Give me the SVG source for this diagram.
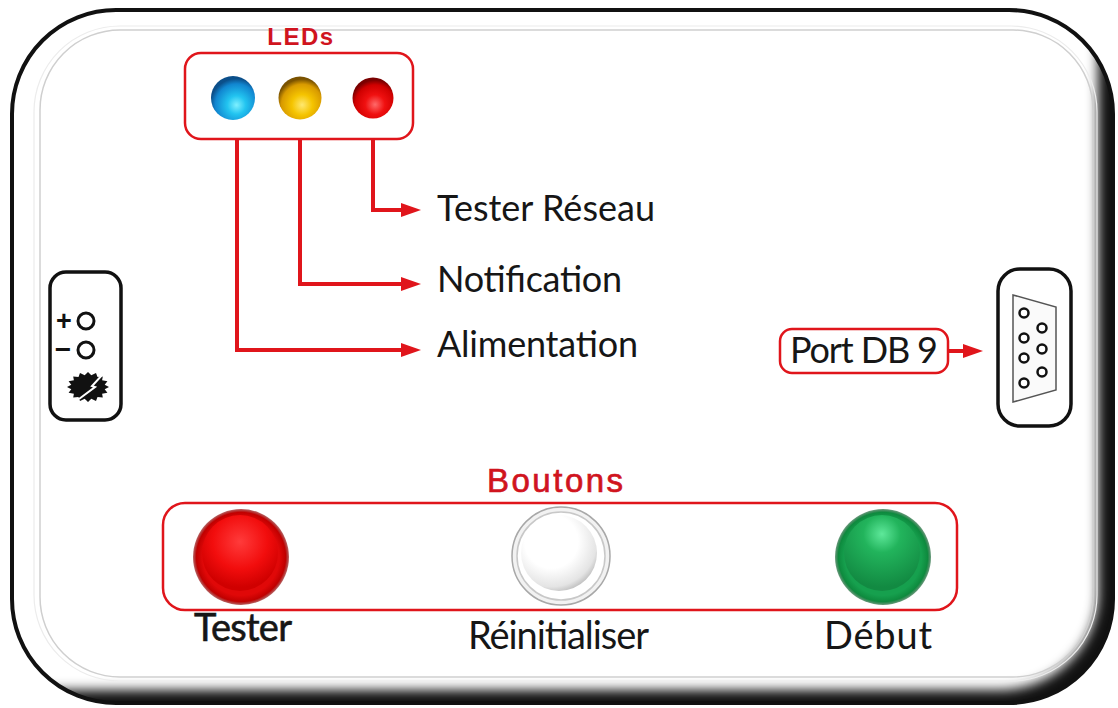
<svg xmlns="http://www.w3.org/2000/svg" width="1118" height="708" viewBox="0 0 1118 708">
  <style>
    .label { font-family: Lato, "Noto Sans", "Liberation Sans", sans-serif; font-size: 36px; fill: #161616; }
    .big { font-size: 38px; }
    .title { font-family: "Liberation Sans", Arial, sans-serif; fill: #d0141e; }
    .redbox { fill: none; stroke: #e0151b; stroke-width: 2.5; }
    .wire { fill: none; stroke: #e0151b; stroke-width: 4; }
    .case { fill: #fff; stroke: #111; stroke-width: 3.5; }
    .pin { fill: #fff; stroke: #111; stroke-width: 2.5; }
  </style>
  <defs>
    <clipPath id="frameClip">
      <rect x="12" y="10" width="1101" height="693" rx="104"/>
    </clipPath>
    <filter id="soft" x="-10%" y="-10%" width="120%" height="120%">
      <feGaussianBlur stdDeviation="6"/>
    </filter>
    <marker id="arrow" markerUnits="userSpaceOnUse" viewBox="0 0 20 14" markerWidth="20" markerHeight="14" refX="1" refY="7" orient="auto">
      <path d="M0 0 L20 7 L0 14 Z" fill="#e0151b"/>
    </marker>

    <!-- LED gradients -->
    <radialGradient id="ledBlue" cx="0.58" cy="0.66" r="0.6">
      <stop offset="0" stop-color="#7ff0ff"/>
      <stop offset="0.35" stop-color="#22c4f0"/>
      <stop offset="0.8" stop-color="#1186d0"/>
      <stop offset="1" stop-color="#0b4f8a"/>
    </radialGradient>
    <radialGradient id="ledYellow" cx="0.55" cy="0.66" r="0.6">
      <stop offset="0" stop-color="#ffe870"/>
      <stop offset="0.4" stop-color="#f5c400"/>
      <stop offset="0.8" stop-color="#d89a00"/>
      <stop offset="1" stop-color="#7a5200"/>
    </radialGradient>
    <radialGradient id="ledRed" cx="0.55" cy="0.66" r="0.6">
      <stop offset="0" stop-color="#ff6a6a"/>
      <stop offset="0.4" stop-color="#f01010"/>
      <stop offset="0.8" stop-color="#d00000"/>
      <stop offset="1" stop-color="#7a0000"/>
    </radialGradient>

    <!-- push-button gradients -->
    <radialGradient id="btnRedRim" cx="0.5" cy="0.5" r="0.5">
      <stop offset="0.8" stop-color="#e00808"/>
      <stop offset="0.93" stop-color="#c00000"/>
      <stop offset="1" stop-color="#8a0000" stop-opacity="0.6"/>
    </radialGradient>
    <radialGradient id="btnRedCap" cx="0.5" cy="0.35" r="0.6">
      <stop offset="0" stop-color="#ff3b3b"/>
      <stop offset="0.6" stop-color="#f20d0d"/>
      <stop offset="1" stop-color="#d00000"/>
    </radialGradient>
    <radialGradient id="btnGreenRim" cx="0.5" cy="0.5" r="0.5">
      <stop offset="0.8" stop-color="#16a04e"/>
      <stop offset="0.93" stop-color="#0e8a3e"/>
      <stop offset="1" stop-color="#0a5a28" stop-opacity="0.6"/>
    </radialGradient>
    <radialGradient id="btnGreenCap" cx="0.5" cy="0.25" r="0.7">
      <stop offset="0" stop-color="#5ee89a"/>
      <stop offset="0.35" stop-color="#22b45c"/>
      <stop offset="1" stop-color="#128a42"/>
    </radialGradient>
    <radialGradient id="btnWhiteCap" cx="0.4" cy="0.35" r="0.7">
      <stop offset="0.5" stop-color="#ffffff"/>
      <stop offset="0.85" stop-color="#e4e4e4"/>
      <stop offset="1" stop-color="#b8b8b8"/>
    </radialGradient>
  </defs>

  <!-- device housing with bevelled edge -->
  <g id="housing">
    <g clip-path="url(#frameClip)">
      <rect x="0" y="0" width="1118" height="708" fill="#111"/>
      <rect x="-80" y="-80" width="1178" height="770" rx="98" fill="#fff" filter="url(#soft)"/>
    </g>
    <rect x="12" y="10" width="1101" height="693" rx="104" fill="none" stroke="#111" stroke-width="4"/>
    <rect x="34" y="26" width="1063" height="655" rx="86" fill="none" stroke="#ececec" stroke-width="1.2"/>
    <rect x="40" y="30" width="1053" height="647" rx="80" fill="none" stroke="#cfcfcf" stroke-width="1.5"/>
  </g>

  <!-- LED group -->
  <g id="leds">
    <text class="title" x="301" y="45" font-size="24" font-weight="bold" letter-spacing="1.5" text-anchor="middle">LEDs</text>
    <rect class="redbox" x="185" y="53" width="228" height="86" rx="16"/>
    <circle cx="233" cy="98" r="22" fill="url(#ledBlue)"/>
    <circle cx="300" cy="98" r="21.5" fill="url(#ledYellow)"/>
    <circle cx="373" cy="98" r="20.5" fill="url(#ledRed)"/>
  </g>

  <!-- connectors -->
  <g id="connectors">
    <path class="wire" d="M373 139 V210 H402" marker-end="url(#arrow)"/>
    <path class="wire" d="M300 139 V284 H402" marker-end="url(#arrow)"/>
    <path class="wire" d="M237 139 V350 H402" marker-end="url(#arrow)"/>
    <path class="wire" d="M948 351 H964" marker-end="url(#arrow)"/>
  </g>

  <!-- LED descriptions -->
  <g id="led-labels">
    <text class="label" x="437" y="221" textLength="218">Tester Réseau</text>
    <text class="label" x="437" y="292" textLength="185">Notification</text>
    <text class="label" x="437" y="357" textLength="201">Alimentation</text>
  </g>

  <!-- power input connector -->
  <g id="power-jack">
    <rect class="case" x="50" y="272" width="71" height="148" rx="16"/>
    <text x="64" y="330" font-family="'Liberation Sans', Arial, sans-serif" font-weight="bold" font-size="27" fill="#111" text-anchor="middle">+</text>
    <circle cx="86" cy="321" r="8" fill="none" stroke="#111" stroke-width="3"/>
    <text x="63" y="359" font-family="'Liberation Sans', Arial, sans-serif" font-weight="bold" font-size="28" fill="#111" text-anchor="middle">−</text>
    <circle cx="86" cy="350" r="8" fill="none" stroke="#111" stroke-width="3"/>
    <polygon fill="#111" points="109,387 104.7,389.3 107.4,392.7 102.1,393.7 102.8,397.6 97.5,397 96,400.9 91.3,398.8 88,402 84.7,398.8 80,400.9 78.5,397 73.2,397.6 73.9,393.7 68.6,392.7 71.3,389.3 67,387 71.3,384.7 68.6,381.3 73.9,380.3 73.2,376.4 78.5,377 80,373.1 84.7,375.2 88,372 91.3,375.2 96,373.1 97.5,377 102.8,376.4 102.1,380.3 107.4,381.3 104.7,384.7"/>
    <polyline points="104,373 92,386 95,387 79,399" fill="none" stroke="#fff" stroke-width="2"/>
  </g>

  <!-- serial port -->
  <g id="db9-port">
    <rect class="case" x="998" y="269" width="73" height="157" rx="22"/>
    <polygon points="1013,295 1056,307 1056,390 1013,402" fill="#fafafa" stroke="#555" stroke-width="1.5"/>
    <circle class="pin" cx="1024" cy="313" r="4.5"/>
    <circle class="pin" cx="1042" cy="328" r="4.5"/>
    <circle class="pin" cx="1024" cy="338" r="4.5"/>
    <circle class="pin" cx="1042" cy="349" r="4.5"/>
    <circle class="pin" cx="1024" cy="358" r="4.5"/>
    <circle class="pin" cx="1042" cy="372" r="4.5"/>
    <circle class="pin" cx="1024" cy="383" r="4.5"/>
  </g>

  <g id="port-label">
    <rect class="redbox" x="780" y="329" width="168" height="44" rx="12"/>
    <text class="label" x="790" y="363" textLength="148">Port DB 9</text>
  </g>

  <!-- push buttons -->
  <g id="buttons">
    <text class="title" x="487" y="492" font-size="33" letter-spacing="2.5" stroke="#d0141e" stroke-width="0.7">Boutons</text>
    <rect class="redbox" x="163" y="503" width="794" height="107" rx="22"/>
  </g>

  <g id="btn-tester">
    <circle cx="241" cy="557" r="48" fill="url(#btnRedRim)"/>
    <circle cx="240" cy="553" r="38" fill="url(#btnRedCap)"/>
    <text class="label big" x="194" y="641" textLength="98" stroke="#161616" stroke-width="0.6">Tester</text>
  </g>

  <g id="btn-reset">
    <circle cx="561" cy="556" r="49" fill="#f2f2f2" stroke="#a8a8a8" stroke-width="1.5"/>
    <circle cx="561" cy="556" r="44" fill="#fff" stroke="#c8c8c8" stroke-width="1.5"/>
    <circle cx="559" cy="553" r="38" fill="url(#btnWhiteCap)"/>
    <text class="label big" x="468" y="649" textLength="181">Réinitialiser</text>
  </g>

  <g id="btn-start">
    <circle cx="883" cy="557" r="48" fill="url(#btnGreenRim)"/>
    <circle cx="882" cy="553" r="38" fill="url(#btnGreenCap)"/>
    <text class="label big" x="824" y="649" textLength="108">Début</text>
  </g>
</svg>
